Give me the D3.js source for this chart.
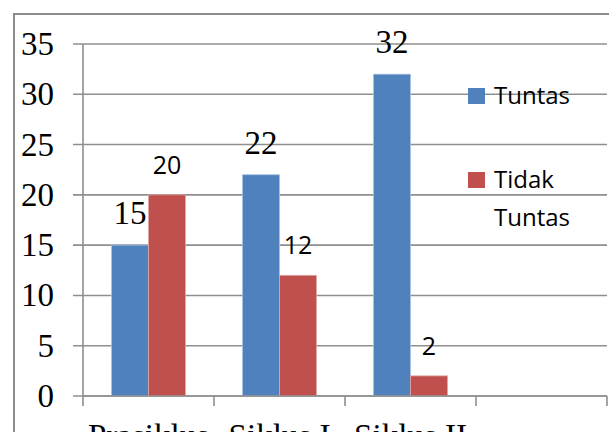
<!DOCTYPE html>
<html>
<head>
<meta charset="utf-8">
<script src="https://cdn.jsdelivr.net/npm/d3@7"></script>
<style>
  html, body { margin: 0; padding: 0; background: #fff; overflow: hidden; }
  svg { display: block; }
</style>
</head>
<body>
<svg id="chart" width="609" height="432"></svg>
<script>
// Data
const categories = ['Prasiklus', 'Siklus I', 'Siklus II', ''];
const seriesNames = ['Tuntas', 'Tidak Tuntas'];
const tuntas = [15, 22, 32, null];
const tidakTuntas = [20, 12, 2, null];
const yTicks = [0, 5, 10, 15, 20, 25, 30, 35];

const colors = ['#4F81BD', '#C0504D'];
const gridColor = '#8f8f8f';
const SERIF = "'Liberation Serif', 'Times New Roman', serif";
const SANS = "'Open Sans', 'Noto Sans', sans-serif";

const svg = d3.select('#chart');

// outer chart border
svg.append('rect')
  .attr('x', 14).attr('y', 14)
  .attr('width', 620).attr('height', 500)
  .attr('fill', 'none')
  .attr('stroke', '#8c8c8c')
  .attr('stroke-width', 2);

const plot = { left: 83, right: 607, top: 44, bottom: 396 };

const y = d3.scaleLinear().domain([0, 35]).range([plot.bottom, plot.top]);
const x = d3.scaleBand().domain(categories.map((c, i) => i)).range([plot.left, plot.right]).padding(0);
const bw = x.bandwidth();
const x1 = d3.scaleBand().domain([0, 1]).range([bw * 0.2176, bw * 0.7824]).padding(0);

// gridlines + y ticks
const gGrid = svg.append('g');
gGrid.selectAll('line.grid')
  .data(yTicks)
  .join('line')
  .attr('class', 'grid')
  .attr('x1', plot.left - 10).attr('x2', plot.right)
  .attr('y1', d => y(d)).attr('y2', d => y(d))
  .attr('stroke', gridColor).attr('stroke-width', 1.6);

gGrid.selectAll('text.ytick')
  .data(yTicks)
  .join('text')
  .attr('class', 'ytick')
  .attr('x', 54)
  .attr('y', d => y(d) + 11)
  .attr('text-anchor', 'end')
  .style('font-family', SERIF)
  .attr('font-size', 33)
  .attr('fill', '#000')
  .text(d => d);

// y axis line
svg.append('line')
  .attr('x1', plot.left).attr('x2', plot.left)
  .attr('y1', plot.top).attr('y2', plot.bottom)
  .attr('stroke', gridColor).attr('stroke-width', 1.6);

// bars + value labels
const series = [tuntas, tidakTuntas];
series.forEach((vals, s) => {
  const bars = vals.map((v, i) => ({ v, i })).filter(d => d.v != null);
  svg.append('g').selectAll('rect')
    .data(bars)
    .join('rect')
    .attr('x', d => x(d.i) + x1(s))
    .attr('y', d => y(d.v))
    .attr('width', x1.bandwidth())
    .attr('height', d => y(0) - y(d.v))
    .attr('fill', colors[s])
    .attr('stroke', s === 0 ? '#a9c1e0' : '#dfa8a6')
    .attr('stroke-width', 0.8);

  svg.append('g').selectAll('text')
    .data(bars)
    .join('text')
    .attr('x', d => x(d.i) + x1(s) + x1.bandwidth() / 2)
    .attr('y', d => y(d.v) - 21)
    .attr('text-anchor', 'middle')
    .style('font-family', s === 0 ? SERIF : SANS)
    .attr('font-size', s === 0 ? 33 : 25)
    .attr('fill', '#000')
    .text(d => d.v);
});

// x axis line and ticks
svg.append('line')
  .attr('x1', plot.left).attr('x2', plot.right)
  .attr('y1', plot.bottom).attr('y2', plot.bottom)
  .attr('stroke', gridColor).attr('stroke-width', 1.6);

const bounds = categories.map((c, i) => x(i)).concat([plot.right]);
svg.append('g').selectAll('line')
  .data(bounds)
  .join('line')
  .attr('x1', d => d).attr('x2', d => d)
  .attr('y1', plot.bottom).attr('y2', plot.bottom + 10)
  .attr('stroke', gridColor).attr('stroke-width', 1.6);

// category labels (cut off by the bottom edge, as in the reference)
svg.append('g').selectAll('text')
  .data(categories)
  .join('text')
  .attr('x', (d, i) => x(i) + bw / 2)
  .attr('y', 447)
  .attr('text-anchor', 'middle')
  .style('font-family', SERIF)
  .attr('font-size', 33)
  .attr('fill', '#000')
  .text(d => d);

// legend
const legend = svg.append('g').style('font-family', SANS).attr('font-size', 24).attr('fill', '#000');
legend.append('rect').attr('x', 468).attr('y', 88).attr('width', 17).attr('height', 16).attr('fill', colors[0]);
legend.append('text').attr('x', 494).attr('y', 104).text(seriesNames[0]);
legend.append('rect').attr('x', 468).attr('y', 172).attr('width', 17).attr('height', 16).attr('fill', colors[1]);
const t2 = legend.append('text');
seriesNames[1].split(' ').forEach((w, k) => {
  t2.append('tspan').attr('x', 494).attr('y', 188 + k * 38).text(w);
});
</script>
</body>
</html>
